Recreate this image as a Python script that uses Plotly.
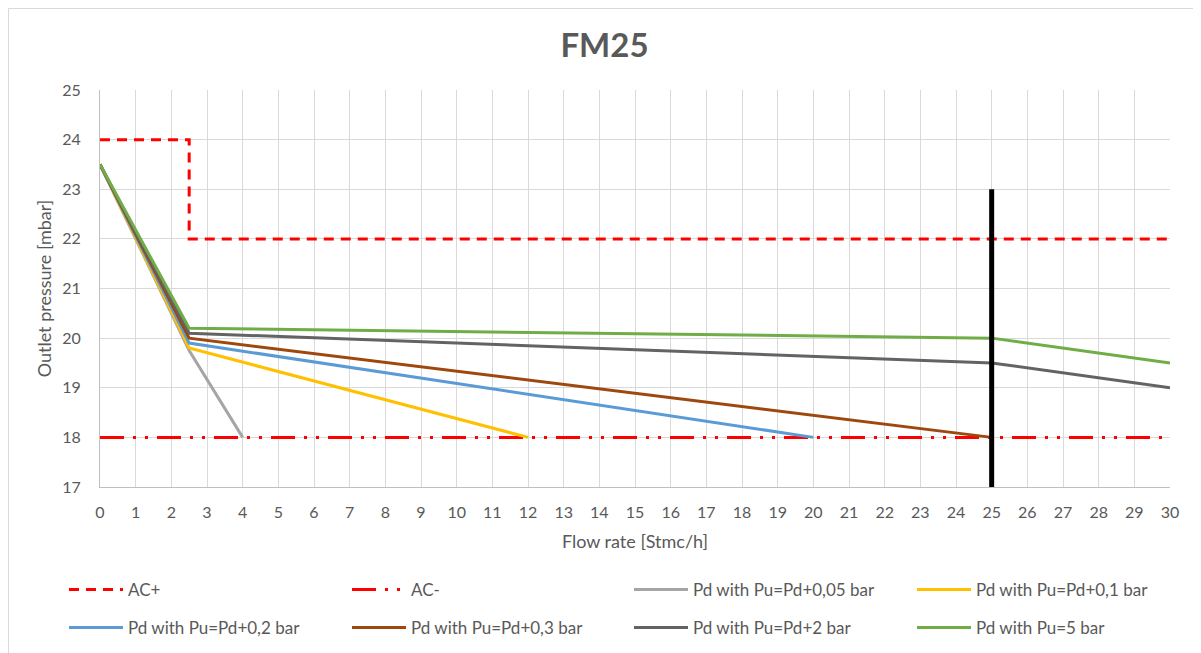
import plotly.graph_objects as go

# ---- data ----
ac_plus_x = [0, 2.5, 2.5, 30]
ac_plus_y = [24, 24, 22, 22]
ac_minus_x = [0, 30]
ac_minus_y = [18, 18]

pd005_x = [0, 2.5, 4]
pd005_y = [23.5, 19.75, 18]
pd01_x = [0, 2.5, 12]
pd01_y = [23.5, 19.8, 18]
pd02_x = [0, 2.5, 20]
pd02_y = [23.5, 19.9, 18]
pd03_x = [0, 2.5, 25]
pd03_y = [23.5, 20.0, 18]
pd2_x = [0, 2.5, 25, 30]
pd2_y = [23.5, 20.1, 19.5, 19.0]
pu5_x = [0, 2.5, 25, 30]
pu5_y = [23.5, 20.2, 20.0, 19.5]

limit_x = [25, 25]
limit_y = [17, 23]

x_ticks = list(range(0, 31))
y_ticks = list(range(17, 26))

FONT = "Lato"
GREY = "#595959"
OFF = 8  # page body margin

W, H = 1201 - OFF, 653 - OFF
L, R, T, B = 100 - OFF, 1201 - 1170, 90 - OFF, 653 - 487
pw = W - L - R
ph = H - T - B

def px_x(p):  # p in screen pixels
    return (p - OFF - L) / pw

def px_y(p):
    return (H - B - (p - OFF)) / ph

fig = go.Figure()

legend_specs = {}

def add(x, y, name, color, dash="solid", width=3, legend=None, pos=None):
    fig.add_trace(go.Scatter(
        x=x, y=y, mode="lines", name=name,
        line=dict(color=color, width=width, dash=dash),
        legend=legend or "legend", showlegend=legend is not None,
    ))
    if legend is not None:
        legend_specs[legend] = pos

ROW1, ROW2 = 590, 628
COL = [69, 352, 634, 917]

add(ac_plus_x, ac_plus_y, "AC+", "#ff0000", dash="10px,7px", legend="legend", pos=(COL[0], ROW1))
add(ac_minus_x, ac_minus_y, "AC-", "#ff0000", dash="24px,9px,3px,9px,3px,9px", legend="legend2", pos=(COL[1], ROW1))
add(pd005_x, pd005_y, "Pd with Pu=Pd+0,05 bar", "#a5a5a5", legend="legend3", pos=(COL[2], ROW1))
add(pd01_x, pd01_y, "Pd with Pu=Pd+0,1 bar", "#ffc000", legend="legend4", pos=(COL[3], ROW1))
add(pd02_x, pd02_y, "Pd with Pu=Pd+0,2 bar", "#5b9bd5", legend="legend5", pos=(COL[0], ROW2))
add(pd03_x, pd03_y, "Pd with Pu=Pd+0,3 bar", "#9e480e", legend="legend6", pos=(COL[1], ROW2))
add(pd2_x, pd2_y, "Pd with Pu=Pd+2 bar", "#636363", legend="legend7", pos=(COL[2], ROW2))
add(pu5_x, pu5_y, "Pd with Pu=5 bar", "#70ad47", legend="legend8", pos=(COL[3], ROW2))

# black limit line
add(limit_x, limit_y, "limit", "#000000", width=5)

legends = {}
for lid, (lx, ly) in legend_specs.items():
    legends[lid] = dict(
        x=px_x(lx - 5), y=px_y(ly), xanchor="left", yanchor="middle",
        orientation="v", itemwidth=54,
        font=dict(family=FONT, size=17, color=GREY),
        bgcolor="rgba(0,0,0,0)",
    )

fig.update_layout(
    width=W, height=H,
    margin=dict(l=L, r=R, t=T, b=B, autoexpand=False),
    paper_bgcolor="white", plot_bgcolor="white",
    title=dict(text="<b>FM25</b>", x=0.5, xanchor="center", y=1 - (45 - OFF) / H, yanchor="middle",
               font=dict(family=FONT, size=33, color=GREY)),
    **legends,
    xaxis=dict(
        range=[0, 30], tickmode="array", tickvals=x_ticks,
        ticktext=[str(v) for v in x_ticks],
        showgrid=True, gridcolor="#d9d9d9", gridwidth=1,
        showline=True, linecolor="#bfbfbf", linewidth=1,
        zeroline=False, ticks="", ticklabelstandoff=11,
        tickfont=dict(family=FONT, size=16, color=GREY),
        title=dict(text="Flow rate [Stmc/h]", font=dict(family=FONT, size=18, color=GREY), standoff=15),
    ),
    yaxis=dict(
        range=[17, 25], tickmode="array", tickvals=y_ticks,
        ticktext=[str(v) for v in y_ticks],
        showgrid=True, gridcolor="#d9d9d9", gridwidth=1,
        showline=True, linecolor="#bfbfbf", linewidth=1,
        zeroline=False, ticks="", ticklabelstandoff=15,
        tickfont=dict(family=FONT, size=16, color=GREY),
        title=dict(text="Outlet pressure [mbar]", font=dict(family=FONT, size=18, color=GREY), standoff=5),
    ),
    shapes=[dict(
        type="rect", xref="paper", yref="paper",
        x0=px_x(8.5), x1=px_x(1195.5), y0=px_y(680), y1=px_y(8.5),
        line=dict(color="#d9d9d9", width=1), fillcolor="rgba(0,0,0,0)", layer="below",
    )],
)

fig.write_html("out.html")
